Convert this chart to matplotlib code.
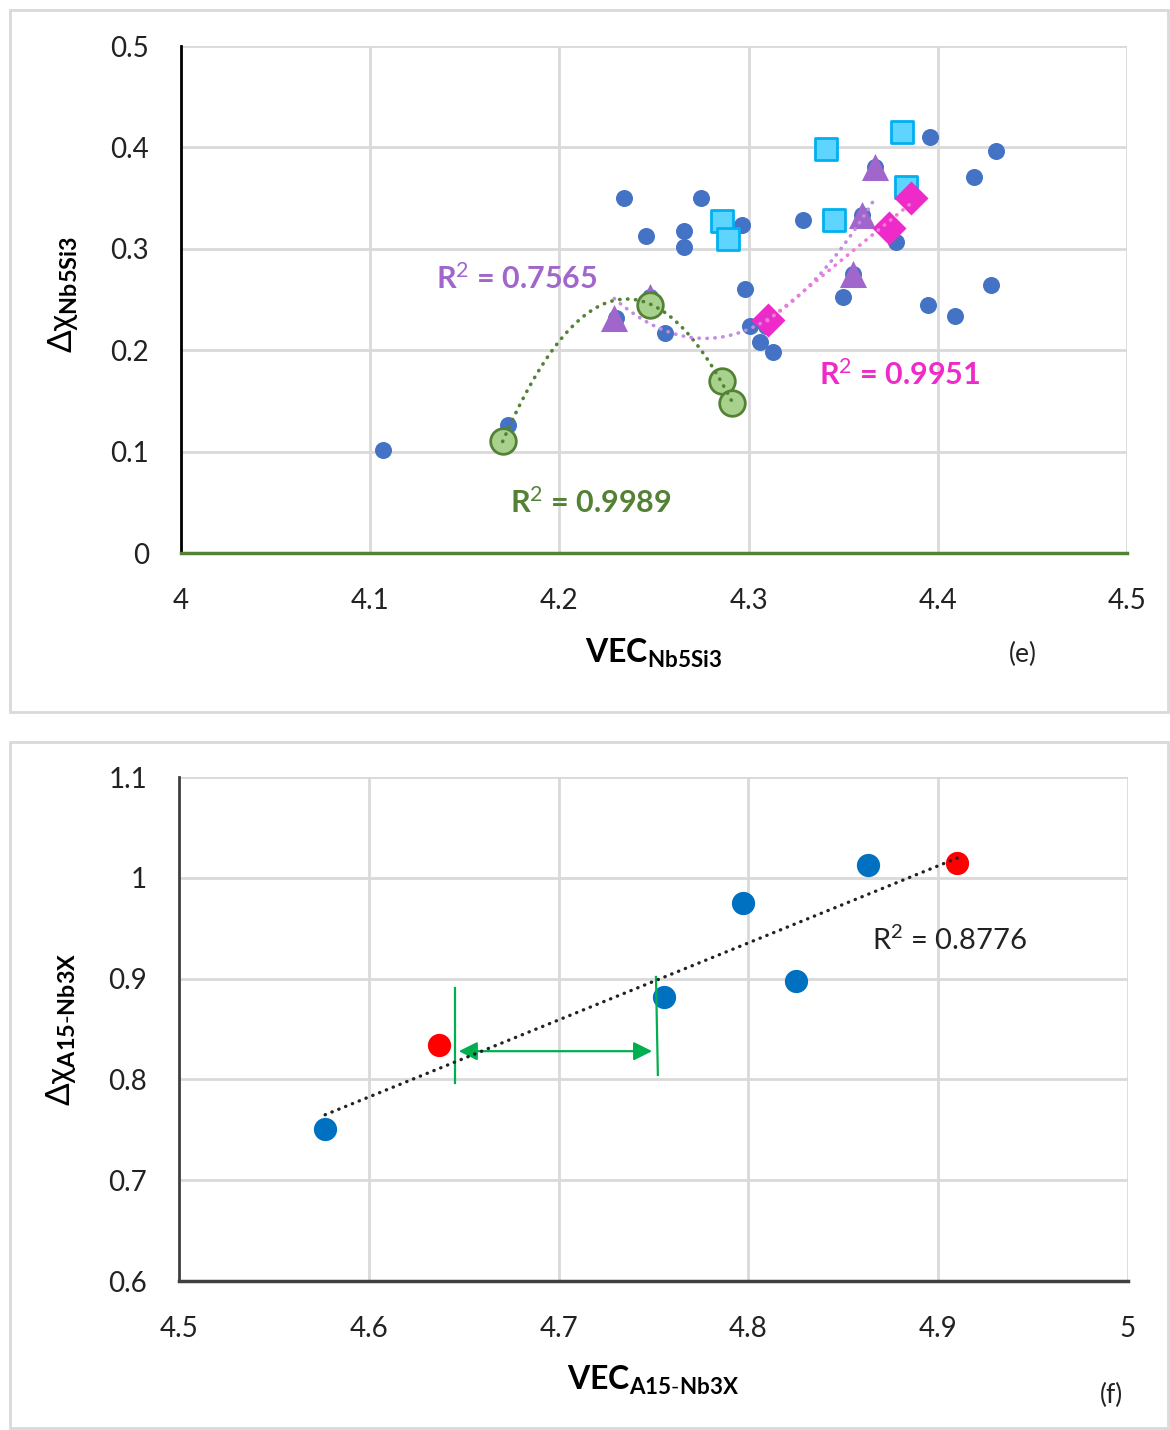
import numpy as np
import matplotlib
matplotlib.use("Agg")
import matplotlib.pyplot as plt
from matplotlib.patches import Rectangle

plt.rcParams["font.family"] = ["Lato", "DejaVu Sans"]
plt.rcParams["mathtext.fontset"] = "custom"
plt.rcParams["mathtext.rm"] = "Lato"
plt.rcParams["mathtext.bf"] = "Lato:bold"
plt.rcParams["mathtext.it"] = "Lato:italic"

# ---- panel (e): Nb5Si3 ----
blue_x = [4.107, 4.173, 4.234, 4.246, 4.266, 4.266, 4.275, 4.2965, 4.298, 4.256,
          4.301, 4.306, 4.313, 4.309, 4.329, 4.350, 4.355, 4.360, 4.367, 4.378,
          4.396, 4.419, 4.431, 4.395, 4.409, 4.428, 4.230, 4.248]
blue_y = [0.102, 0.126, 0.350, 0.313, 0.318, 0.302, 0.350, 0.323, 0.260, 0.217,
          0.224, 0.208, 0.198, 0.224, 0.328, 0.252, 0.275, 0.333, 0.381, 0.307,
          0.410, 0.371, 0.396, 0.245, 0.234, 0.264, 0.232, 0.252]

square_x = [4.286, 4.289, 4.341, 4.345, 4.381, 4.383]
square_y = [0.327, 0.310, 0.398, 0.328, 0.415, 0.361]

tri_x = [4.229, 4.248, 4.355, 4.360, 4.367]
tri_y = [0.232, 0.252, 0.275, 0.333, 0.381]

diam_x = [4.310, 4.374, 4.386]
diam_y = [0.230, 0.321, 0.350]

green_x = [4.170, 4.248, 4.286, 4.291]
green_y = [0.110, 0.245, 0.170, 0.148]

# ---- panel (f): A15-Nb3X ----
a15_blue_x = [4.577, 4.7555, 4.797, 4.825, 4.863]
a15_blue_y = [0.751, 0.882, 0.975, 0.898, 1.013]
a15_red_x = [4.637, 4.910]
a15_red_y = [0.834, 1.015]

# green bracket showing the VEC gap
gap_x = [4.6454, 4.7513]
gap_lo = [0.7964, 0.8044]
gap_hi = [0.8907, 0.9016]
gap_arrow_y = 0.828

GRID = "#D9D9D9"
DOTS = (0, (0.1, 2.1))


def style_axes(ax, xlim, ylim, xticks, yticks, bottom_color):
    ax.set_xlim(*xlim)
    ax.set_ylim(*ylim)
    ax.set_xticks(xticks)
    ax.set_yticks(yticks)
    ax.grid(True, color=GRID, lw=2)
    ax.set_axisbelow(True)
    for s in ["top", "right"]:
        ax.spines[s].set_visible(False)
    ax.spines["left"].set_color("black")
    ax.spines["left"].set_linewidth(2)
    ax.spines["bottom"].set_color(bottom_color)
    ax.spines["bottom"].set_linewidth(2.5)
    ax.tick_params(length=0, labelsize=20, colors="#222222")
    ax.tick_params(axis="x", pad=25)
    ax.tick_params(axis="y", pad=23)


def trend(ax, x, y, deg, color, lw=2.6):
    coef = np.polyfit(x, y, deg)
    xs = np.linspace(min(x), max(x), 200)
    ax.plot(xs, np.polyval(coef, xs), color=color, lw=lw,
            linestyle=DOTS, dash_capstyle="round", zorder=5)


fig = plt.figure(figsize=(11.7, 14.3), dpi=100)

# grey frames round each panel
fig.patches.append(Rectangle((10 / 1170, 1 - 712 / 1430), 1158 / 1170, 702 / 1430,
                             transform=fig.transFigure, fill=False,
                             edgecolor="#D9D9D9", lw=2))
fig.patches.append(Rectangle((10 / 1170, 1 - 1428 / 1430), 1158 / 1170, 686 / 1430,
                             transform=fig.transFigure, fill=False,
                             edgecolor="#D9D9D9", lw=2))

# ---------------- (e) ----------------
ax1 = fig.add_axes([181 / 1170, 1 - 553 / 1430, 946 / 1170, 507 / 1430])
style_axes(ax1, (4, 4.5), (0, 0.5), [4, 4.1, 4.2, 4.3, 4.4, 4.5],
           [0, 0.1, 0.2, 0.3, 0.4, 0.5], "#548235")
ax1.set_xticklabels(["4", "4.1", "4.2", "4.3", "4.4", "4.5"])
ax1.set_yticklabels(["0", "0.1", "0.2", "0.3", "0.4", "0.5"])

ax1.scatter(blue_x, blue_y, s=150, color="#4472C4", zorder=3, lw=0)
ax1.scatter(square_x, square_y, s=260, marker="s", color="#5DD5FF",
            edgecolor="#00B0F0", lw=2, zorder=4)
ax1.scatter(tri_x, tri_y, s=380, marker="^", color="#A066CB", lw=0, zorder=4)
ax1.scatter(diam_x, diam_y, s=300, marker="D", color="#EE2AC8", lw=0, zorder=4)
ax1.scatter(green_x, green_y, s=340, color="#A9D18E", edgecolor="#548235",
            lw=2, zorder=4)

trend(ax1, green_x, green_y, 2, "#548235")
trend(ax1, tri_x, tri_y, 2, "#C38BE2")
trend(ax1, diam_x, diam_y, 1, "#F27AD9")

ax1.text(4.135, 0.271, "R$^2$ = 0.7565", color="#A066CB", fontsize=22,
         fontweight="bold", va="center", ha="left")
ax1.text(4.337, 0.1755, "R$^2$ = 0.9951", color="#EE2AC8", fontsize=22,
         fontweight="bold", va="center", ha="left")
ax1.text(4.174, 0.050, "R$^2$ = 0.9989", color="#548235", fontsize=22,
         fontweight="bold", va="center", ha="left")

ax1.set_xlabel(r"$\mathbf{VEC}_{\mathbf{Nb5Si3}}$", fontsize=23)
ax1.xaxis.set_label_coords(0.499, -0.165)
ax1.set_ylabel(r"$\mathrm{\Delta\chi}_{\mathbf{Nb5Si3}}$", fontsize=24)
ax1.yaxis.set_label_coords(-0.107, 0.51)
ax1.text(0.89, -0.20, "(e)", transform=ax1.transAxes, fontsize=19,
         ha="center", va="center", color="#222222")

# ---------------- (f) ----------------
ax2 = fig.add_axes([179 / 1170, 1 - 1281 / 1430, 949 / 1170, 504 / 1430])
style_axes(ax2, (4.5, 5.0), (0.6, 1.1), [4.5, 4.6, 4.7, 4.8, 4.9, 5.0],
           [0.6, 0.7, 0.8, 0.9, 1.0, 1.1], "#404040")
ax2.spines["left"].set_color("#404040")
ax2.set_xticklabels(["4.5", "4.6", "4.7", "4.8", "4.9", "5"])
ax2.set_yticklabels(["0.6", "0.7", "0.8", "0.9", "1", "1.1"])

ax2.scatter(a15_blue_x, a15_blue_y, s=280, color="#0070C0", lw=0, zorder=3)
ax2.scatter(a15_red_x, a15_red_y, s=280, color="#FF0000", lw=0, zorder=3)
trend(ax2, a15_blue_x + a15_red_x, a15_blue_y + a15_red_y, 1, "#222222", lw=2.4)

ax2.plot([gap_x[0], gap_x[0]], [gap_lo[0], gap_hi[0]], color="#00B050", lw=1.6, zorder=4)
ax2.plot([gap_x[1], gap_x[1] + 0.001], [gap_hi[1], gap_lo[1]], color="#00B050", lw=1.6, zorder=4)
ax2.annotate("", xy=(gap_x[0] + 0.002, gap_arrow_y), xytext=(gap_x[1] - 0.002, gap_arrow_y),
             arrowprops=dict(arrowstyle="<|-|>", color="#00B050", lw=1.6,
                             mutation_scale=28, shrinkA=0, shrinkB=0), zorder=4)

ax2.text(4.865, 0.938, "R$^2$ = 0.8776", color="#222222", fontsize=21,
         va="center", ha="left")

ax2.set_xlabel(r"$\mathbf{VEC}_{\mathbf{A15\text{-}Nb3X}}$", fontsize=23)
ax2.xaxis.set_label_coords(0.50, -0.165)
ax2.set_ylabel(r"$\mathrm{\Delta\chi}_{\mathbf{A15\text{-}Nb3X}}$", fontsize=24)
ax2.yaxis.set_label_coords(-0.106, 0.50)
ax2.text(0.983, -0.228, "(f)", transform=ax2.transAxes, fontsize=19,
         ha="center", va="center", color="#222222")

fig.savefig("out.png", dpi=100)
